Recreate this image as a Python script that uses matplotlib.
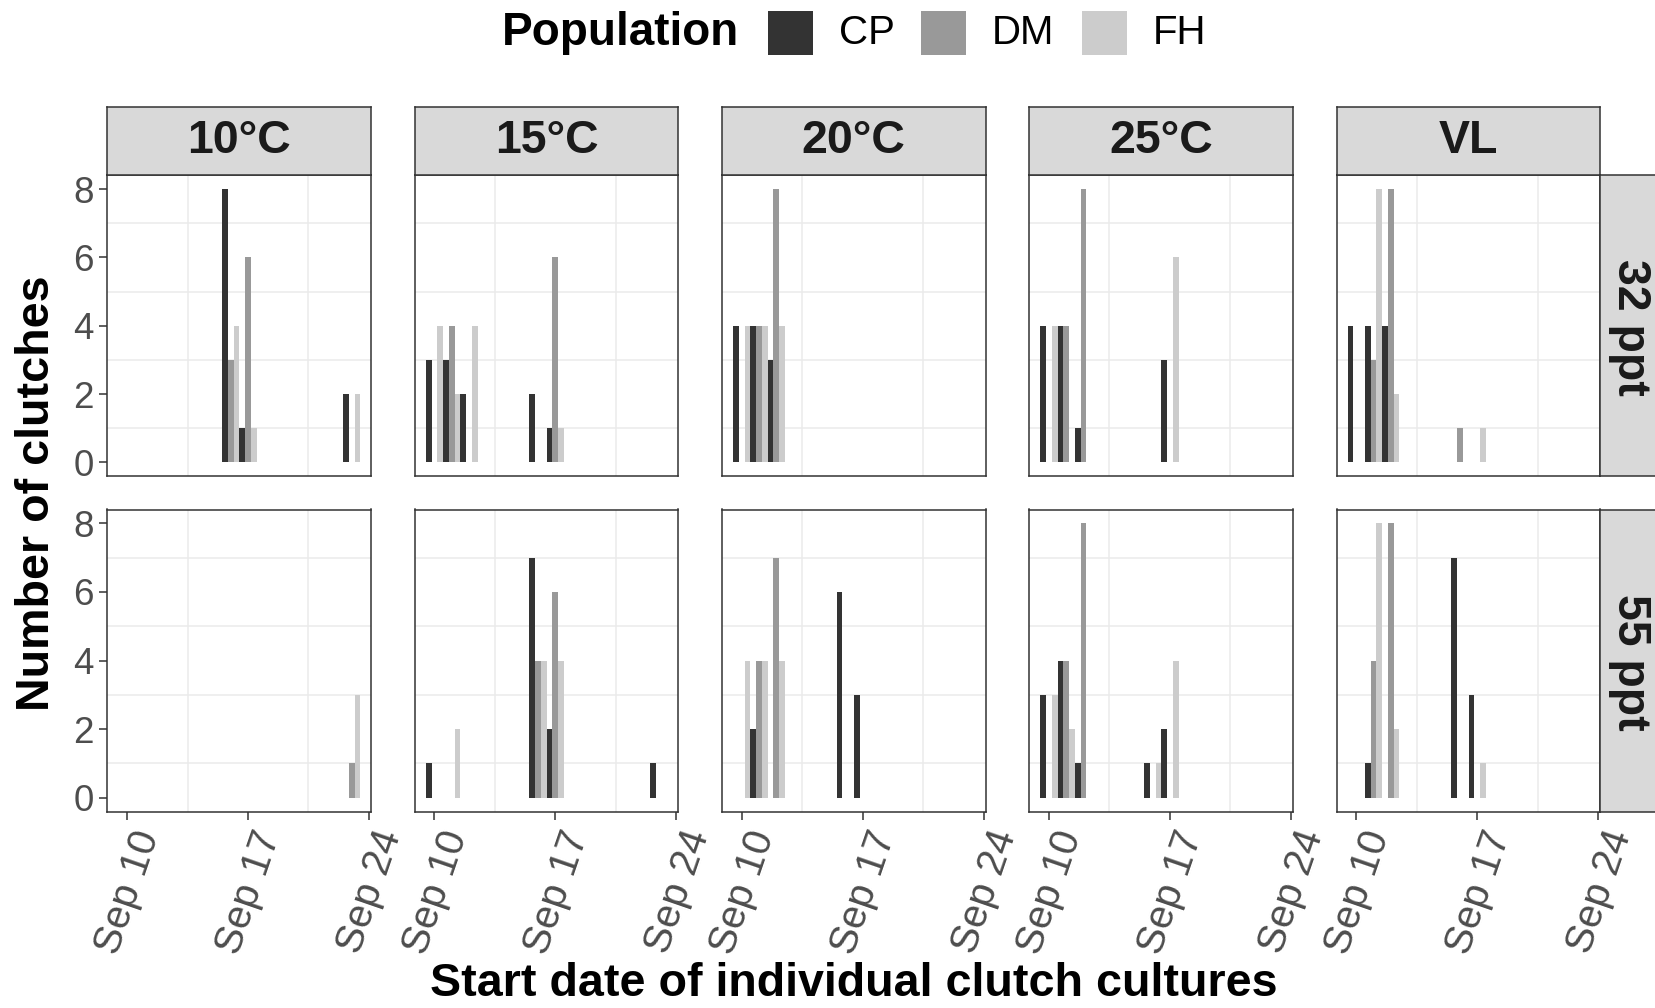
import matplotlib
matplotlib.use("Agg")
import matplotlib.pyplot as plt
import matplotlib.transforms as mtransforms
from matplotlib.patches import Rectangle
import numpy as np

plt.rcParams['font.family'] = ['Liberation Sans', 'DejaVu Sans']

# ---------------- data ----------------
temperatures = ["10°C", "15°C", "20°C", "25°C", "VL"]
salinities = ["32 ppt", "55 ppt"]
populations = ["CP", "DM", "FH"]
pop_colors = ["#333333", "#999999", "#CCCCCC"]
start_days = [10, 11, 12, 16, 17, 23]          # day of September
x_tick_days = [10, 17, 24]
x_tick_labels = ["Sep 10", "Sep 17", "Sep 24"]
y_ticks = [0, 2, 4, 6, 8]

# counts per temperature (rows) x start day (columns)
cp_32 = [[0, 0, 0, 8, 1, 2],
         [3, 3, 2, 2, 1, 0],
         [4, 4, 3, 0, 0, 0],
         [4, 4, 1, 0, 3, 0],
         [4, 4, 4, 0, 0, 0]]
dm_32 = [[0, 0, 0, 3, 6, 0],
         [0, 4, 0, 0, 6, 0],
         [0, 4, 8, 0, 0, 0],
         [0, 4, 8, 0, 0, 0],
         [0, 3, 8, 1, 0, 0]]
fh_32 = [[0, 0, 0, 4, 1, 2],
         [4, 2, 4, 0, 1, 0],
         [4, 4, 4, 0, 0, 0],
         [4, 0, 0, 0, 6, 0],
         [0, 8, 2, 0, 1, 0]]
cp_55 = [[0, 0, 0, 0, 0, 0],
         [1, 0, 0, 7, 2, 1],
         [0, 2, 0, 6, 3, 0],
         [3, 4, 1, 1, 2, 0],
         [0, 1, 0, 7, 3, 0]]
dm_55 = [[0, 0, 0, 0, 0, 1],
         [0, 0, 0, 4, 6, 0],
         [0, 4, 7, 0, 0, 0],
         [0, 4, 8, 0, 0, 0],
         [0, 4, 8, 0, 0, 0]]
fh_55 = [[0, 0, 0, 0, 0, 3],
         [0, 2, 0, 4, 4, 0],
         [4, 4, 4, 0, 0, 0],
         [3, 2, 0, 1, 4, 0],
         [0, 8, 2, 0, 1, 0]]

counts = {"32 ppt": [cp_32, dm_32, fh_32], "55 ppt": [cp_55, dm_55, fh_55]}

# ---------------- layout ----------------
W, H = 1656, 1008
fig = plt.figure(figsize=(W / 100, H / 100), dpi=100)

def fx(px):
    return px / W

def fy(py):
    return 1 - py / H

panel_left0 = 107.4
panel_step = 307.3
panel_w = 263.6
row_tops = [175.5, 509.5]
row_bots = [476.0, 811.5]
strip_top = 106.8
strip_right_l = 1600.0
strip_right_w = 64.0

ink = "#333333"
tick_col = "#4D4D4D"
bar_w = 1.0 / 3
strip_fs = 33.5
ytick_fs = 26.5
xtick_fs = 29

for r, sal in enumerate(salinities):
    for k, temp in enumerate(temperatures):
        left = panel_left0 + panel_step * k
        ax = fig.add_axes([fx(left), fy(row_bots[r]), panel_w / W,
                           (row_bots[r] - row_tops[r]) / H])
        for p, pop in enumerate(populations):
            vals = np.array(counts[sal][p][k])
            xs = np.array(start_days) + (p - 1) * bar_w
            mask = vals > 0
            ax.bar(xs[mask], vals[mask], width=bar_w, color=pop_colors[p],
                   linewidth=0, zorder=3)
        ax.set_xlim(8.86, 24.12)
        ax.set_ylim(-0.4, 8.4)
        ax.set_xticks(x_tick_days)
        ax.set_yticks(y_ticks)
        ax.set_xticks([13.5, 20.5], minor=True)
        ax.set_yticks([1, 3, 5, 7], minor=True)
        ax.grid(which='minor', color='#EBEBEB', lw=1.1, zorder=0)
        ax.grid(which='major', visible=False)
        ax.tick_params(which='minor', length=0)
        ax.tick_params(which='major', length=5.5, width=1.1, color=ink,
                       labelcolor=tick_col, pad=4.5)
        ax.tick_params(axis='y', labelsize=ytick_fs)
        ax.tick_params(axis='x', labelsize=xtick_fs)
        for s in ax.spines.values():
            s.set_color(ink)
            s.set_linewidth(1.1)
        ax.set_axisbelow(True)
        if k == 0:
            ax.set_yticklabels([str(v) for v in y_ticks])
        else:
            ax.tick_params(axis='y', which='major', length=0, labelleft=False)
        if r == 1:
            ax.set_xticklabels(x_tick_labels, rotation=71, ha='right',
                               va='top', rotation_mode='anchor')
            shift = mtransforms.ScaledTranslation(4 / 100, 0, fig.dpi_scale_trans)
            for lab in ax.get_xticklabels():
                lab.set_transform(lab.get_transform() + shift)
        else:
            ax.tick_params(axis='x', which='major', length=0, labelbottom=False)

        # top strips
        if r == 0:
            sax = fig.add_axes([fx(left), fy(row_tops[0]), panel_w / W,
                                (row_tops[0] - strip_top) / H])
            sax.set_facecolor("#D9D9D9")
            sax.set_xticks([]); sax.set_yticks([])
            for s in sax.spines.values():
                s.set_color(ink); s.set_linewidth(1.1)
            sax.text(0.5, 0.5, temp, ha='center', va='center', fontsize=strip_fs,
                     fontweight='bold', color="#1A1A1A", transform=sax.transAxes)

    # right strips
    rax = fig.add_axes([fx(strip_right_l), fy(row_bots[r]), strip_right_w / W,
                        (row_bots[r] - row_tops[r]) / H])
    rax.set_facecolor("#D9D9D9")
    rax.set_xticks([]); rax.set_yticks([])
    for s in rax.spines.values():
        s.set_color(ink); s.set_linewidth(1.1)
    fig.text(fx(1630), fy((row_tops[r] + row_bots[r]) / 2 + 2), sal, rotation=-90,
             ha='center', va='center', fontsize=strip_fs, fontweight='bold',
             color="#1A1A1A")

# axis titles
fig.text(fx(37), fy((row_tops[0] + row_bots[1]) / 2), "Number of clutches",
         rotation=90, ha='center', va='center', fontsize=33.6, fontweight='bold')
fig.text(fx(853.7), fy(984), "Start date of individual clutch cultures",
         ha='center', va='center', fontsize=33.6, fontweight='bold')

# legend
leg_y = 33
fig.text(fx(502), fy(leg_y), "Population", ha='left', va='center',
         fontsize=33, fontweight='bold')
key_lefts = [768, 921, 1082]
label_lefts = [839, 992, 1153]
for p, pop in enumerate(populations):
    fig.patches.append(Rectangle((fx(key_lefts[p]), fy(55)), 45 / W, 44.5 / H,
                                 transform=fig.transFigure, facecolor=pop_colors[p],
                                 edgecolor='none'))
    fig.text(fx(label_lefts[p]), fy(leg_y), pop, ha='left', va='center',
             fontsize=29)

fig.savefig("out.png", dpi=100)
